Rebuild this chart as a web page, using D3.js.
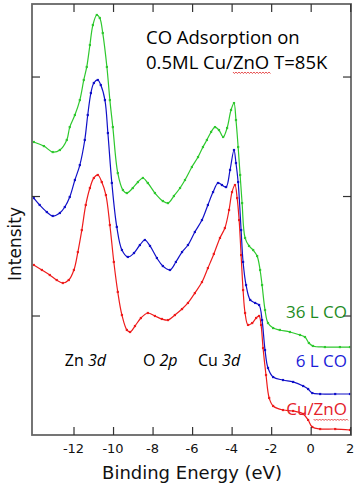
<!DOCTYPE html>
<html>
<head>
<meta charset="utf-8">
<script src="https://cdn.jsdelivr.net/npm/d3@7"></script>
<style>
body { margin: 0; background: #fff; }
svg { display: block; }
.tick-lab { font-family: 'DejaVu Sans', sans-serif; font-size: 13px; fill: #111; }
.ax-lab { font-family: 'DejaVu Sans', sans-serif; font-size: 18px; fill: #111; }
.note { font-family: 'Open Sans', 'Lato', sans-serif; fill: #000; }
</style>
</head>
<body>
<svg id="chart"></svg>
<script>
'use strict';
//Chart size, same as window.
const W = 356, H = 488;
//Plot frame (pixels).
const fL = 32, fR = 351, fT = 4, fB = 435;

//Spectra: binding energy (eV) and intensity (arb. units).
const energyGreen = [-14.01,-13.5,-13.05,-12.69,-12.34,-12.19,-11.93,-11.68,-11.48,-11.33,-11.17,-11.02,-10.82,-10.67,-10.52,-10.31,-10.16,-10.01,-9.76,-9.5,-9.3,-9.0,-8.74,-8.49,-8.24,-7.88,-7.48,-7.22,-6.92,-6.61,-6.36,-6.01,-5.7,-5.45,-5.25,-5.04,-4.84,-4.64,-4.43,-4.23,-4.03,-3.88,-3.78,-3.67,-3.57,-3.47,-3.32,-3.12,-2.91,-2.71,-2.56,-2.46,-2.31,-2.16,-1.9,-1.56,-1.05,-0.54,-0.29,-0.09,0.11,0.72,1.48,1.99];
const intenGreen = [2.452,2.418,2.368,2.385,2.469,2.577,2.678,2.803,2.971,3.08,3.264,3.431,3.515,3.49,3.364,3.08,2.803,2.577,2.192,2.05,2.025,2.067,2.117,2.151,2.109,2.025,1.958,1.941,2.0,2.067,2.134,2.243,2.326,2.41,2.469,2.536,2.577,2.552,2.494,2.569,2.72,2.778,2.636,2.41,2.176,1.941,1.649,1.582,1.548,1.498,1.381,1.255,1.046,0.937,0.895,0.879,0.862,0.837,0.82,0.77,0.745,0.736,0.736,0.736];

const energyBlue = [-14.01,-13.71,-13.35,-13.05,-12.69,-12.44,-12.19,-11.93,-11.68,-11.43,-11.28,-11.12,-10.97,-10.77,-10.62,-10.41,-10.26,-10.06,-9.81,-9.55,-9.25,-8.94,-8.64,-8.39,-8.13,-7.78,-7.48,-7.12,-6.82,-6.51,-6.21,-5.86,-5.5,-5.2,-4.94,-4.69,-4.49,-4.28,-4.08,-3.88,-3.78,-3.67,-3.52,-3.42,-3.27,-3.06,-2.81,-2.61,-2.46,-2.31,-2.16,-1.9,-1.4,-0.89,-0.38,-0.13,0.08,0.48,1.24,1.99];
const intenBlue = [1.983,1.925,1.866,1.833,1.858,1.908,1.992,2.134,2.259,2.469,2.678,2.862,2.946,2.971,2.929,2.803,2.527,2.109,1.741,1.548,1.49,1.523,1.59,1.632,1.582,1.481,1.414,1.381,1.448,1.531,1.59,1.699,1.799,1.925,2.033,2.109,2.092,2.075,2.218,2.385,2.276,2.117,1.715,1.448,1.255,1.13,1.105,1.088,0.962,0.711,0.561,0.485,0.46,0.444,0.41,0.385,0.351,0.343,0.343,0.343];

const energyRed = [-14.01,-13.6,-13.2,-12.85,-12.54,-12.24,-11.98,-11.78,-11.58,-11.38,-11.17,-10.97,-10.77,-10.57,-10.36,-10.16,-9.96,-9.76,-9.55,-9.3,-9.14,-8.89,-8.59,-8.24,-7.88,-7.53,-7.22,-6.87,-6.51,-6.21,-5.86,-5.5,-5.2,-4.9,-4.59,-4.34,-4.13,-3.98,-3.83,-3.72,-3.62,-3.52,-3.42,-3.32,-3.17,-2.96,-2.76,-2.61,-2.51,-2.41,-2.26,-2.1,-1.9,-1.4,-0.89,-0.38,-0.13,0.08,0.48,1.24,1.99];
const intenRed = [1.423,1.381,1.339,1.297,1.272,1.297,1.381,1.531,1.715,1.925,2.067,2.151,2.176,2.117,2.008,1.757,1.448,1.197,1.004,0.879,0.862,0.912,0.979,1.021,0.996,0.971,0.962,1.004,1.054,1.105,1.188,1.28,1.397,1.515,1.649,1.732,1.883,2.033,2.092,1.983,1.799,1.506,1.213,1.021,0.921,0.937,0.979,0.996,0.921,0.728,0.502,0.31,0.243,0.209,0.201,0.176,0.126,0.067,0.05,0.05,0.042];

//Series names and colours.
const seriesNames = ['36 L CO', '6 L CO', 'Cu/ZnO'];
const seriesColors = ['#2ec82e', '#1010c8', '#ee1c1c'];
const labelColors = ['#1e8c1e', '#1c1cd8', '#e4202a'];

//Axis ticks.
const xTicks = [-12, -10, -8, -6, -4, -2, 0, 2];
const yTicks = [1, 2, 3];

//Region labels and the energy where each starts.
const regionNames = [['Zn ', '3d'], ['O ', '2p'], ['Cu ', '3d']];
const regionE = [-12.44, -8.49, -5.7];

const svg = d3.select('#chart').attr('width', W).attr('height', H);

const x = d3.scaleLinear().domain([-14.1, 2.04]).range([fL, fR]);
const y = d3.scaleLinear().domain([0, 3.607]).range([fB, fT]);

//Build the three series.
const series = [
	d3.zip(energyGreen, intenGreen),
	d3.zip(energyBlue, intenBlue),
	d3.zip(energyRed, intenRed)
];

const line = d3.line()
	.x(d => x(d[0]))
	.y(d => y(d[1]))
	.curve(d3.curveCatmullRom.alpha(0.5));

//Draw the lines and data dots, red first so green sits on top.
[2, 1, 0].forEach(i => {
	svg.append('path')
		.datum(series[i])
		.attr('d', line)
		.attr('fill', 'none')
		.attr('stroke', seriesColors[i])
		.attr('stroke-width', 1.2);
	svg.append('g').selectAll('rect')
		.data(series[i])
		.join('rect')
		.attr('x', d => x(d[0]) - 1.1)
		.attr('y', d => y(d[1]) - 1.1)
		.attr('width', 2.2)
		.attr('height', 2.2)
		.attr('fill', seriesColors[i]);
});

//Frame.
svg.append('rect')
	.attr('x', fL).attr('y', fT)
	.attr('width', fR - fL).attr('height', fB - fT)
	.attr('fill', 'none')
	.attr('stroke', '#666')
	.attr('stroke-width', 1.8);

//Ticks pointing inward on all four sides.
const tickLen = 8;
svg.append('g').attr('transform', `translate(0,${fB})`)
	.call(d3.axisTop(x).tickValues(xTicks).tickSize(tickLen).tickFormat(''))
	.call(g => g.select('.domain').remove());
svg.append('g').attr('transform', `translate(0,${fT})`)
	.call(d3.axisBottom(x).tickValues(xTicks).tickSize(tickLen).tickFormat(''))
	.call(g => g.select('.domain').remove());
svg.append('g').attr('transform', `translate(${fL},0)`)
	.call(d3.axisRight(y).tickValues(yTicks).tickSize(tickLen).tickFormat(''))
	.call(g => g.select('.domain').remove());
svg.append('g').attr('transform', `translate(${fR},0)`)
	.call(d3.axisLeft(y).tickValues(yTicks).tickSize(tickLen).tickFormat(''))
	.call(g => g.select('.domain').remove());
svg.selectAll('.tick line').attr('stroke', '#333').attr('stroke-width', 1.2);

//X tick labels below the frame.
svg.append('g').selectAll('text')
	.data(xTicks)
	.join('text')
	.attr('class', 'tick-lab')
	.attr('x', d => x(d))
	.attr('y', 453)
	.attr('text-anchor', 'middle')
	.text(d => d);

//Axis titles.
svg.append('text')
	.attr('class', 'ax-lab')
	.attr('x', 192).attr('y', 479)
	.attr('text-anchor', 'middle')
	.text('Binding Energy (eV)');
svg.append('text')
	.attr('class', 'ax-lab')
	.attr('transform', 'translate(21,244) rotate(-90)')
	.attr('text-anchor', 'middle')
	.style('font-size', '17px')
	.text('Intensity');

//Title lines.
svg.append('text')
	.attr('class', 'note')
	.attr('x', 146).attr('y', 44)
	.style('font-size', '18.5px')
	.text('CO Adsorption on');
const t2 = svg.append('text')
	.attr('class', 'note')
	.attr('x', 146).attr('y', 69)
	.style('font-size', '18.5px');
t2.append('tspan').text('0.5ML Cu/');
t2.append('tspan').text('ZnO');
t2.append('tspan').text(' T=85K');

//Region labels.
regionNames.forEach((r, i) => {
	const t = svg.append('text')
		.attr('class', 'note')
		.attr('x', x(regionE[i])).attr('y', 366)
		.style('font-size', '16px');
	t.append('tspan').text(r[0]);
	t.append('tspan').style('font-style', 'italic').text(r[1]);
});

//Series labels at the right.
const labY = [318, 367, 415];
const labels = seriesNames.map((n, i) => svg.append('text')
	.attr('class', 'note')
	.attr('x', 347).attr('y', labY[i])
	.attr('text-anchor', 'end')
	.style('font-size', '17px')
	.style('fill', labelColors[i])
	.text(n));

//Red wavy spell-check underline.
function wavy(x0, x1, yy) {
	let p = `M${x0},${yy}`;
	for (let xx = x0, k = 0; xx < x1; xx += 1.5, k++) {
		p += ` L${xx + 1.5},${yy + (k % 2 ? 0 : 1.5)}`;
	}
	svg.append('path').attr('d', p).attr('fill', 'none')
		.attr('stroke', '#e02020').attr('stroke-width', 0.8);
}
//Under "ZnO" in the title.
const full = t2.node();
const startZ = full.getSubStringLength(0, 9);
const lenZ = full.getSubStringLength(9, 3);
wavy(146 + startZ, 146 + startZ + lenZ, 72);
//Under "ZnO" in the Cu/ZnO label.
const lab3 = labels[2].node();
const z3 = lab3.getSubStringLength(3, 3);
wavy(347 - z3, 347, 419);
</script>
</body>
</html>
